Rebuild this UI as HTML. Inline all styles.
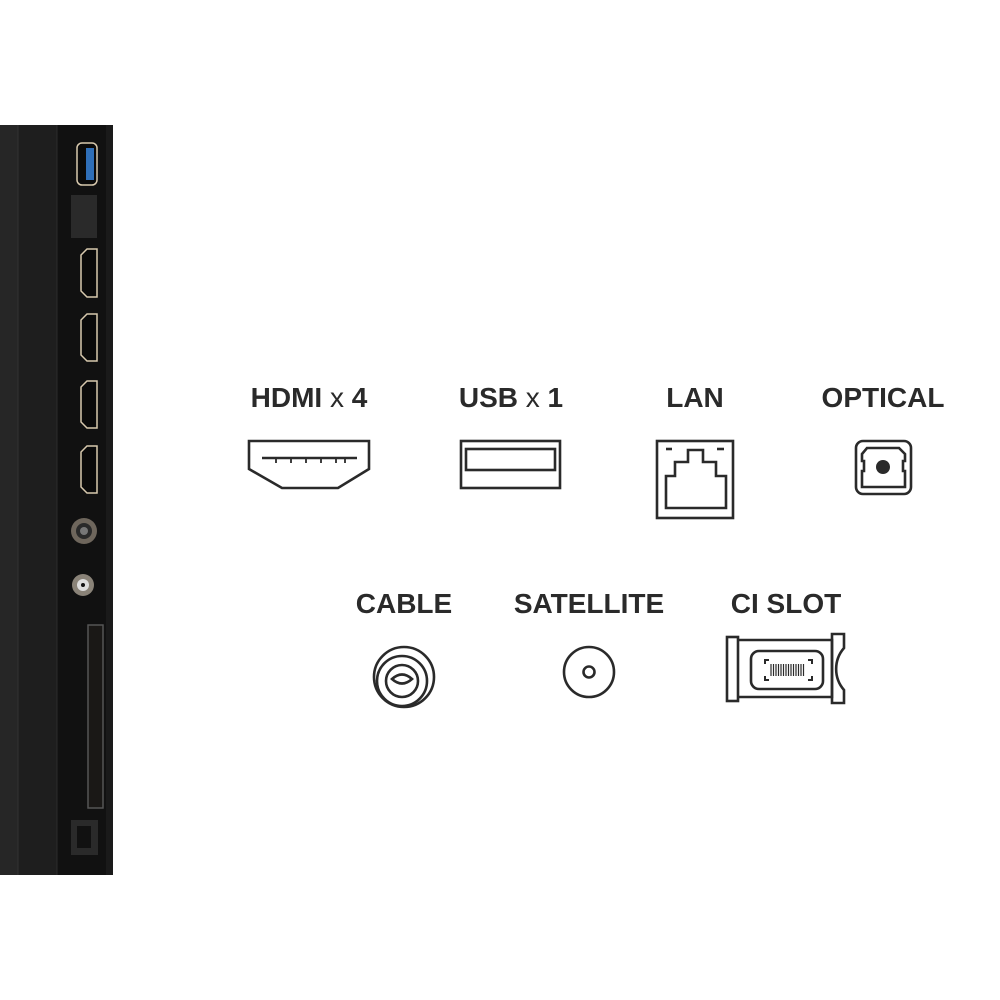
<!DOCTYPE html>
<html><head><meta charset="utf-8"><style>
body{margin:0;width:1000px;height:1000px;background:#fff;position:relative;overflow:hidden;font-family:"Liberation Sans",Arial,sans-serif}
.l{position:absolute;font-weight:bold;font-size:28px;color:#2a2a2a;white-space:nowrap;transform:translateX(-50%)}
.l span{font-weight:normal}
</style></head><body>
<svg width="1000" height="1000" style="position:absolute;left:0;top:0">
<rect x="0" y="125" width="18" height="750" fill="#262626"/>
<rect x="18" y="125" width="39" height="750" fill="#1e1e1e"/>
<rect x="57" y="125" width="56" height="750" fill="#111"/>
<rect x="106" y="125" width="7" height="750" fill="#1a1a1a"/>
<line x1="18" y1="125" x2="18" y2="875" stroke="#333"/>
<line x1="57" y1="125" x2="57" y2="875" stroke="#2c2c2c"/>
<rect x="77" y="143" width="20" height="42" rx="5" fill="#0a0a0a" stroke="#d8c9ae" stroke-width="1.5"/>
<rect x="86" y="148" width="8" height="32" fill="#2f6fb8"/>
<rect x="71" y="195" width="26" height="43" fill="#2a2a2a"/>
<g fill="#0a0a0a" stroke="#d8c9ae" stroke-width="1.5">
<path d="M97,249 V297 H87 L81,291 V255 L87,249 Z"/>
<path d="M97,314 V361 H87 L81,355 V320 L87,314 Z"/>
<path d="M97,381 V428 H87 L81,422 V387 L87,381 Z"/>
<path d="M97,446 V493 H87 L81,487 V452 L87,446 Z"/>
</g>
<circle cx="84" cy="531" r="13" fill="#6e665c"/><circle cx="84" cy="531" r="8" fill="#2a2a2a"/><circle cx="84" cy="531" r="4" fill="#777"/>
<circle cx="83" cy="585" r="11" fill="#8a8378"/><circle cx="83" cy="585" r="6" fill="#ddd"/><circle cx="83" cy="585" r="2" fill="#111"/>
<rect x="88" y="625" width="15" height="183" fill="#1a1816" stroke="#555" stroke-width="1.5"/>
<rect x="71" y="820" width="27" height="35" fill="#2a2a2a"/>
<rect x="77" y="826" width="14" height="22" fill="#111"/>

<g fill="none" stroke="#2a2a2a" stroke-width="2.6">
<path d="M249,441 H369 V469 L338,488 H282 L249,469 Z"/>
<line x1="262" y1="458" x2="357" y2="458"/>
<rect x="461" y="441" width="99" height="47"/>
<rect x="466" y="449" width="89" height="21"/>
<rect x="657" y="441" width="76" height="77"/>
<path d="M666,508 V476 H675 V462 H688 V450 H703 V462 H716 V476 H726 V508 Z"/>
<line x1="666" y1="449" x2="672" y2="449"/><line x1="717" y1="449" x2="724" y2="449"/>
<rect x="856" y="441" width="55" height="53" rx="7"/>
<path d="M867,448 H899 L905,454 V461 H903 V471 H905 V487 H862 V471 H864 V461 H862 V454 Z"/>
<circle cx="404" cy="677" r="30"/>
<circle cx="402" cy="681" r="25"/>
<circle cx="402" cy="681" r="16"/>
<path d="M392,679 Q402,670 412,679 Q402,688 392,679 Z"/>
<circle cx="589" cy="672" r="25"/>
<circle cx="589" cy="672" r="5.5"/>
<rect x="727" y="637" width="11" height="64"/>
<path d="M738,640 H832 V697 H738"/>
<path d="M832,634 H844 V648 A32,32 0 0 0 844,690 V703 H832 Z"/>
<rect x="751" y="651" width="72" height="38" rx="8"/>
</g>
<g stroke="#2a2a2a" stroke-width="1.8">
<line x1="276" y1="458" x2="276" y2="463"/><line x1="291" y1="458" x2="291" y2="463"/><line x1="306" y1="458" x2="306" y2="463"/><line x1="321" y1="458" x2="321" y2="463"/><line x1="336" y1="458" x2="336" y2="463"/><line x1="345" y1="458" x2="345" y2="463"/>
</g>
<g stroke="#2a2a2a" stroke-width="2" fill="none">
<path d="M765,664 V660 H769 M769,680 H765 V676 M808,660 H812 V664 M812,676 V680 H808"/>
</g>
<g stroke="#2a2a2a" stroke-width="1.2">
<line x1="771" y1="664" x2="771" y2="676"/><line x1="773.5" y1="664" x2="773.5" y2="676"/><line x1="776" y1="664" x2="776" y2="676"/><line x1="778.5" y1="664" x2="778.5" y2="676"/><line x1="781" y1="664" x2="781" y2="676"/><line x1="783.5" y1="664" x2="783.5" y2="676"/><line x1="786" y1="664" x2="786" y2="676"/><line x1="788.5" y1="664" x2="788.5" y2="676"/><line x1="791" y1="664" x2="791" y2="676"/><line x1="793.5" y1="664" x2="793.5" y2="676"/><line x1="796" y1="664" x2="796" y2="676"/><line x1="798.5" y1="664" x2="798.5" y2="676"/><line x1="801" y1="664" x2="801" y2="676"/><line x1="803.5" y1="664" x2="803.5" y2="676"/>
</g>
<circle cx="883" cy="467" r="7" fill="#2a2a2a"/>
</svg>
<div class="l" style="left:309px;top:382px">HDMI <span>x</span> 4</div>
<div class="l" style="left:511px;top:382px">USB <span>x</span> 1</div>
<div class="l" style="left:695px;top:382px">LAN</div>
<div class="l" style="left:883px;top:382px">OPTICAL</div>
<div class="l" style="left:404px;top:588px">CABLE</div>
<div class="l" style="left:589px;top:588px">SATELLITE</div>
<div class="l" style="left:786px;top:588px">CI SLOT</div>
</body></html>
